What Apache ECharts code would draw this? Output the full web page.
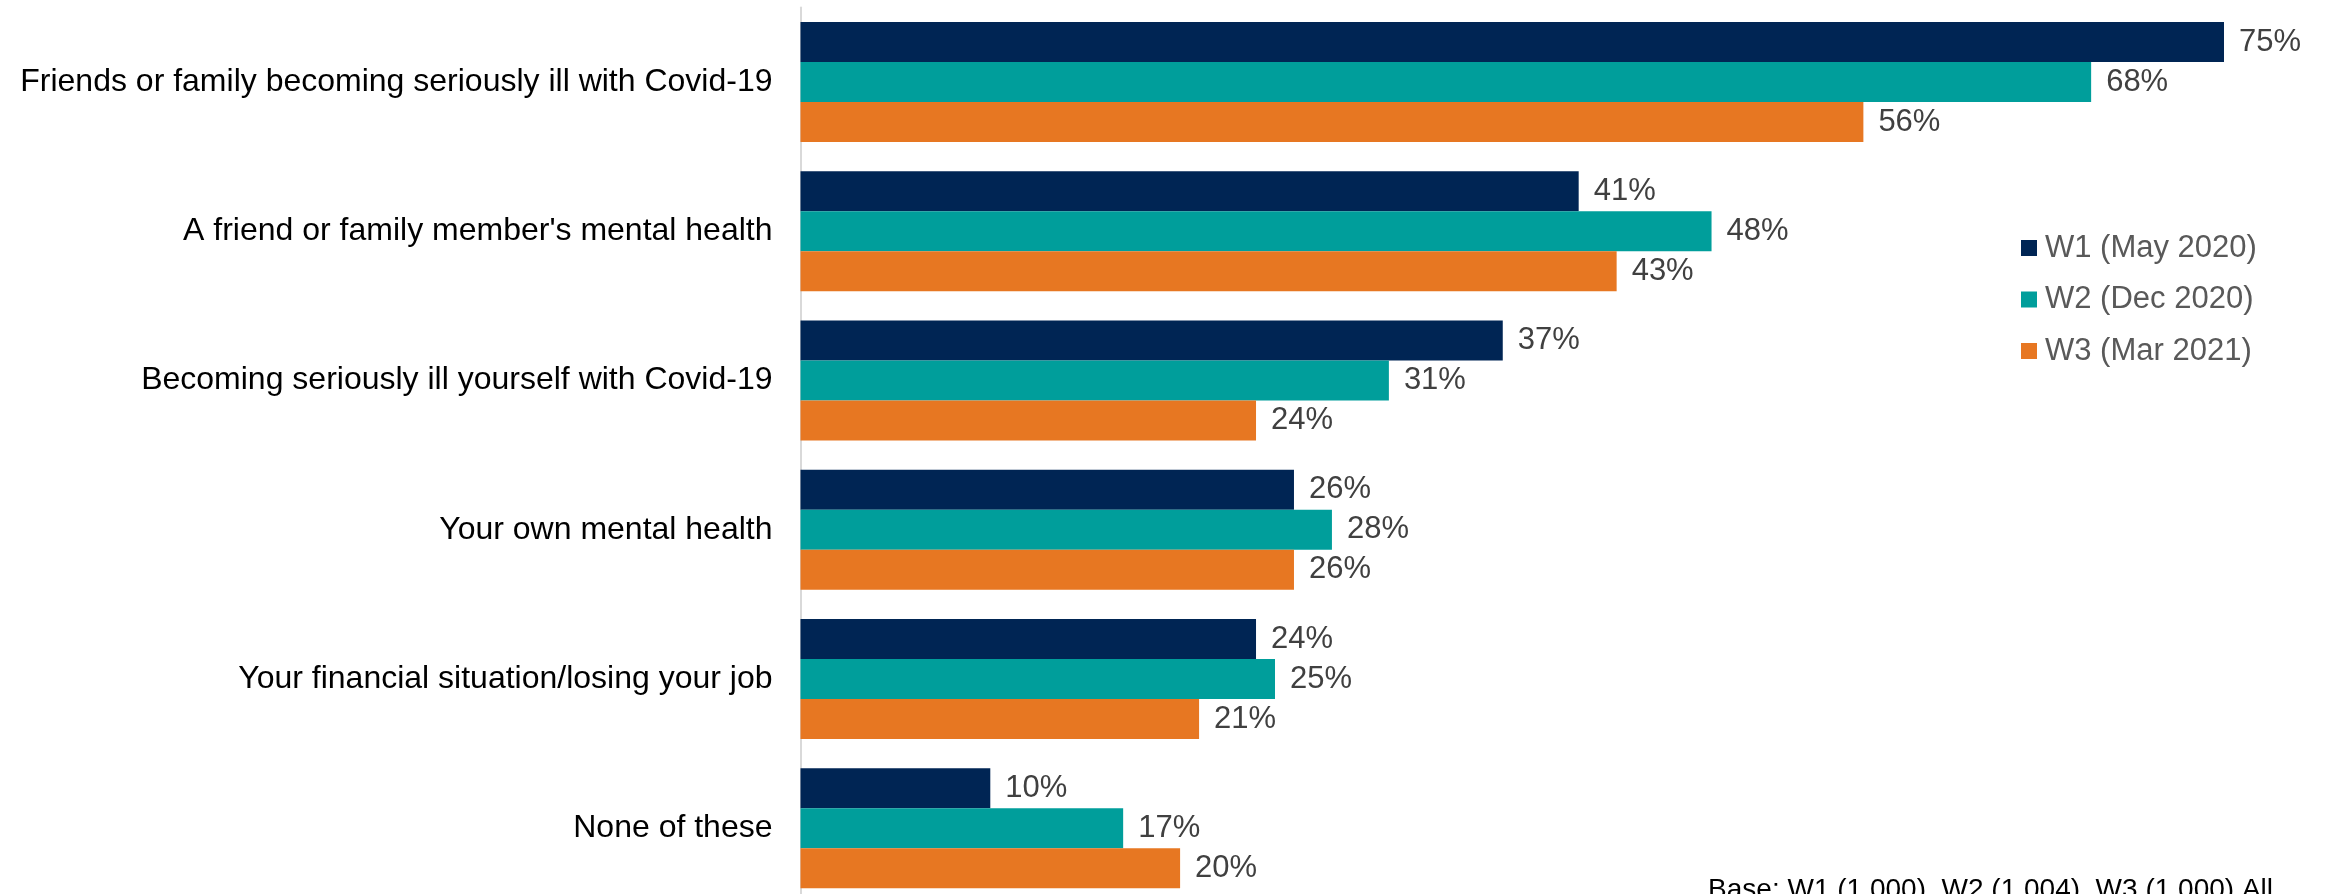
<!DOCTYPE html>
<html>
<head>
<meta charset="utf-8">
<script src="https://cdn.jsdelivr.net/npm/echarts@6/dist/echarts.min.js"></script>
<style>
  html, body { margin: 0; padding: 0; background: #fff; }
  #chart { width: 2329px; height: 894px; }
</style>
</head>
<body>
<div id="chart"></div>
<script>
// Worries about others and oneself, three survey waves (% of respondents)
const categories = [
  'Friends or family becoming seriously ill with Covid-19',
  "A friend or family member's mental health",
  'Becoming seriously ill yourself with Covid-19',
  'Your own mental health',
  'Your financial situation/losing your job',
  'None of these'
];
const waveNames = ['W1 (May 2020)', 'W2 (Dec 2020)', 'W3 (Mar 2021)'];
const w1Values = [75, 41, 37, 26, 24, 10];
const w2Values = [68, 48, 31, 28, 25, 17];
const w3Values = [56, 43, 24, 26, 21, 20];
const baseNote = 'Base: W1 (1,000), W2 (1,004), W3 (1,000) All';

const colors = ['#002554', '#009e9b', '#e77722'];
const FONT = '"Liberation Sans", Arial, sans-serif';

const chart = echarts.init(document.getElementById('chart'), null, { renderer: 'canvas' });

function barSeries(name, values, color) {
  return {
    name: name,
    type: 'bar',
    data: values,
    barWidth: 40,
    barGap: '0%',
    itemStyle: { color: color },
    label: {
      show: true,
      position: 'right',
      distance: 15,
      formatter: '{c}%',
      color: '#404040',
      fontFamily: FONT,
      fontSize: 31
    },
    emphasis: { disabled: true },
    animation: false
  };
}

chart.setOption({
  backgroundColor: '#ffffff',
  animation: false,
  grid: {
    left: 800.5,
    top: 7.4,
    width: 1518.4,
    height: 895.6,
    containLabel: false,
    // the last category band runs past the bottom edge of the canvas
    outerBoundsMode: 'none'
  },
  xAxis: {
    type: 'value',
    min: 0,
    max: 80,
    show: false
  },
  yAxis: {
    type: 'category',
    data: categories,
    inverse: true,
    axisLine: { show: true, lineStyle: { color: '#d9d9d9', width: 2 } },
    axisTick: { show: false },
    axisLabel: {
      color: '#000000',
      fontFamily: FONT,
      fontSize: 32,
      margin: 28,
      padding: [4, 0, 0, 0]
    },
    splitLine: { show: false }
  },
  legend: {
    orient: 'vertical',
    left: 2016,
    top: 227.5,
    itemWidth: 16,
    itemHeight: 16,
    itemGap: 20.5,
    icon: 'rect',
    data: waveNames,
    textStyle: {
      color: '#595959',
      fontFamily: FONT,
      fontSize: 31,
      lineHeight: 31,
      padding: [0, 0, 0, 3]
    }
  },
  graphic: [{
    type: 'text',
    right: 56,
    top: 876,
    style: {
      text: baseNote,
      fill: '#000000',
      font: '28px "Liberation Sans", Arial, sans-serif'
    }
  }],
  series: [
    barSeries(waveNames[0], w1Values, colors[0]),
    barSeries(waveNames[1], w2Values, colors[1]),
    barSeries(waveNames[2], w3Values, colors[2])
  ]
});
</script>
</body>
</html>
